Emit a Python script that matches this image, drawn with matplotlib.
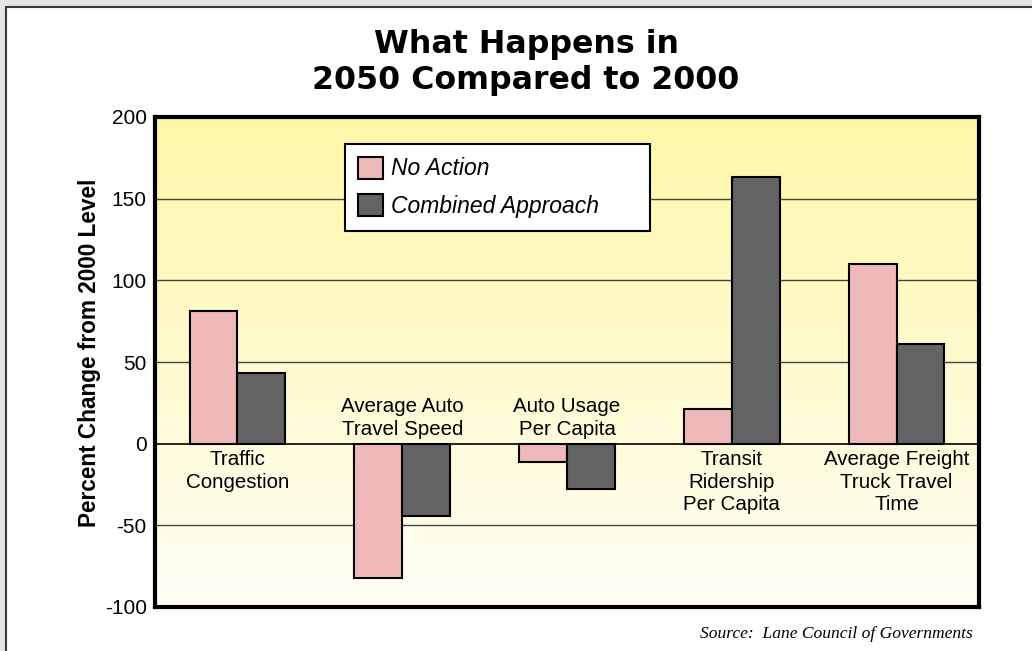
import numpy as np
import matplotlib
matplotlib.use("Agg")
import matplotlib.pyplot as plt
from matplotlib.patches import Rectangle, Patch

categories = ["Traffic\nCongestion", "Average Auto\nTravel Speed", "Auto Usage\nPer Capita",
              "Transit\nRidership\nPer Capita", "Average Freight\nTruck Travel\nTime"]
label_above = [False, True, True, False, False]
no_action = [81, -82, -11, 21, 110]
combined = [43, -44, -28, 163, 61]
series_names = ["No Action", "Combined Approach"]
yticks = [-100, -50, 0, 50, 100, 150, 200]

pink = "#F0B9B9"
dark = "#636363"

plt.rcParams['font.family'] = ['Liberation Sans', 'DejaVu Sans']

fig = plt.figure(figsize=(10.32, 6.51), dpi=100)
fig.patch.set_facecolor("#E6E6E6")
panel = Rectangle((6/1032, -0.1), 1.2, 1.1 - 7/651, transform=fig.transFigure,
                  facecolor="white", edgecolor="#3a3a3a", linewidth=1.5, zorder=-5)
fig.patches.append(panel)

ax = fig.add_axes([155/1032, 1-607/651, (979-155)/1032, (607-117)/651])
ax.set_zorder(1)
ax.set_xlim(-0.5, len(categories) - 0.5)
ax.set_ylim(-100, 200)

# gradient background
grad = np.linspace(0, 1, 256).reshape(-1, 1)
top_c = np.array([255, 247, 168]) / 255
bot_c = np.array([255, 254, 246]) / 255
img = bot_c[None, None, :] * (1 - grad[:, :, None]) + top_c[None, None, :] * grad[:, :, None]
ax.imshow(img, extent=[-0.5, len(categories) - 0.5, -100, 200], origin="lower",
          aspect="auto", zorder=0)

for y in yticks[1:-1]:
    if y == 0:
        ax.axhline(y, color="black", lw=1.2, zorder=1)
    else:
        ax.axhline(y, color="#444444", lw=1.0, zorder=1)

x = np.arange(len(categories))
w = 0.29
ax.bar(x - w/2, no_action, w, color=pink, edgecolor="black", lw=1.5, zorder=3, label=series_names[0])
ax.bar(x + w/2, combined, w, color=dark, edgecolor="black", lw=1.5, zorder=3, label=series_names[1])

for xi, lab, above in zip(x, categories, label_above):
    if above:
        ax.text(xi, 3, lab, ha="center", va="bottom", fontsize=14.8, linespacing=1.22, zorder=4)
    else:
        ax.text(xi, -4, lab, ha="center", va="top", fontsize=14.8, linespacing=1.22, zorder=4)

ax.set_yticks(yticks)
ax.set_yticklabels([str(v) for v in yticks], fontsize=15)
ax.set_xticks([])
ax.tick_params(axis="y", length=0, pad=6)
for s in ax.spines.values():
    s.set_linewidth(3)
    s.set_color("black")
ax.set_ylabel("Percent Change from 2000 Level", fontsize=16.3, fontweight="bold")
ax.yaxis.set_label_coords(-0.065, 0.518)

handles = [Patch(facecolor=pink, edgecolor="black", lw=1.5),
           Patch(facecolor=dark, edgecolor="black", lw=1.5)]
leg = fig.legend(handles, series_names, loc="upper left",
                 bbox_to_anchor=(345/1032, 1-144/651 - 0.01, (650-345)/1032, 0.01),
                 mode="expand", fancybox=False, framealpha=1, edgecolor="black",
                 prop={"style": "italic", "size": 16.5}, handlelength=1.1, handleheight=1.1,
                 labelspacing=0.6, borderpad=0.55, handletextpad=0.35, borderaxespad=0)
leg.get_frame().set_linewidth(1.5)
leg.set_zorder(5)

fig.text(526/1032, 1-45/651, "What Happens in", ha="center", va="center",
         fontsize=22.8, fontweight="bold", family=["DejaVu Sans"])
fig.text(526/1032, 1-80/651, "2050 Compared to 2000", ha="center", va="center",
         fontsize=22.8, fontweight="bold", family=["DejaVu Sans"])

fig.text(973/1032, 1-634/651, "Source:  Lane Council of Governments", ha="right", va="center",
         fontsize=12.6, style="italic", family=["Liberation Serif", "DejaVu Serif"])

fig.savefig("out.png", dpi=100, facecolor=fig.get_facecolor())
